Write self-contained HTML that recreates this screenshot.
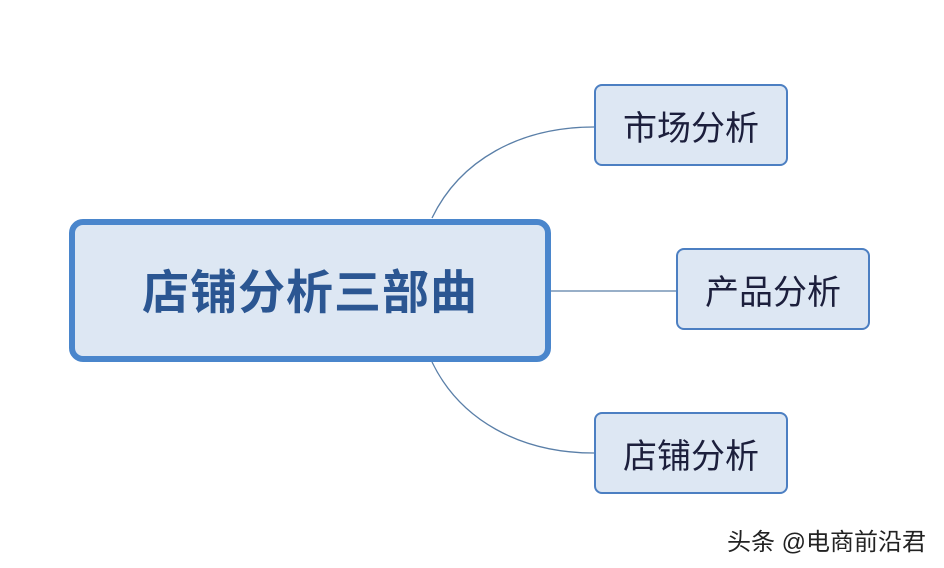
<!DOCTYPE html>
<html><head><meta charset="utf-8"><style>
html,body{margin:0;padding:0;background:#fff;}
body{width:944px;height:568px;position:relative;overflow:hidden;font-family:"Liberation Sans","Noto Sans CJK SC",sans-serif;}
.box{position:absolute;box-sizing:border-box;display:flex;align-items:center;justify-content:center;background:#dde7f3;}
.main{left:69px;top:219px;width:482px;height:143px;border:6px solid #4a86cc;border-radius:14px;font-size:47px;font-weight:bold;color:#2b5692;letter-spacing:1px;padding-bottom:4px;}
.sub{width:194px;height:82px;border:2px solid #4c7fc2;border-radius:8px;font-size:34px;color:#1c1f3c;}
.wm{position:absolute;left:727px;top:522px;font-size:24px;color:#222;}
</style></head><body>
<svg width="944" height="568" style="position:absolute;left:0;top:0">
<path d="M432 218 C 460 160, 520 127, 594 127" fill="none" stroke="#5a7fa8" stroke-width="1.3"/>
<path d="M551 291 L 676 291" fill="none" stroke="#5a7fa8" stroke-width="1.3"/>
<path d="M432 362 C 460 420, 520 453, 594 453" fill="none" stroke="#5a7fa8" stroke-width="1.3"/>
</svg>
<div class="box main">店铺分析三部曲</div>
<div class="box sub" style="left:594px;top:84px">市场分析</div>
<div class="box sub" style="left:676px;top:248px">产品分析</div>
<div class="box sub" style="left:594px;top:412px">店铺分析</div>
<div class="wm">头条 @电商前沿君</div>
</body></html>
